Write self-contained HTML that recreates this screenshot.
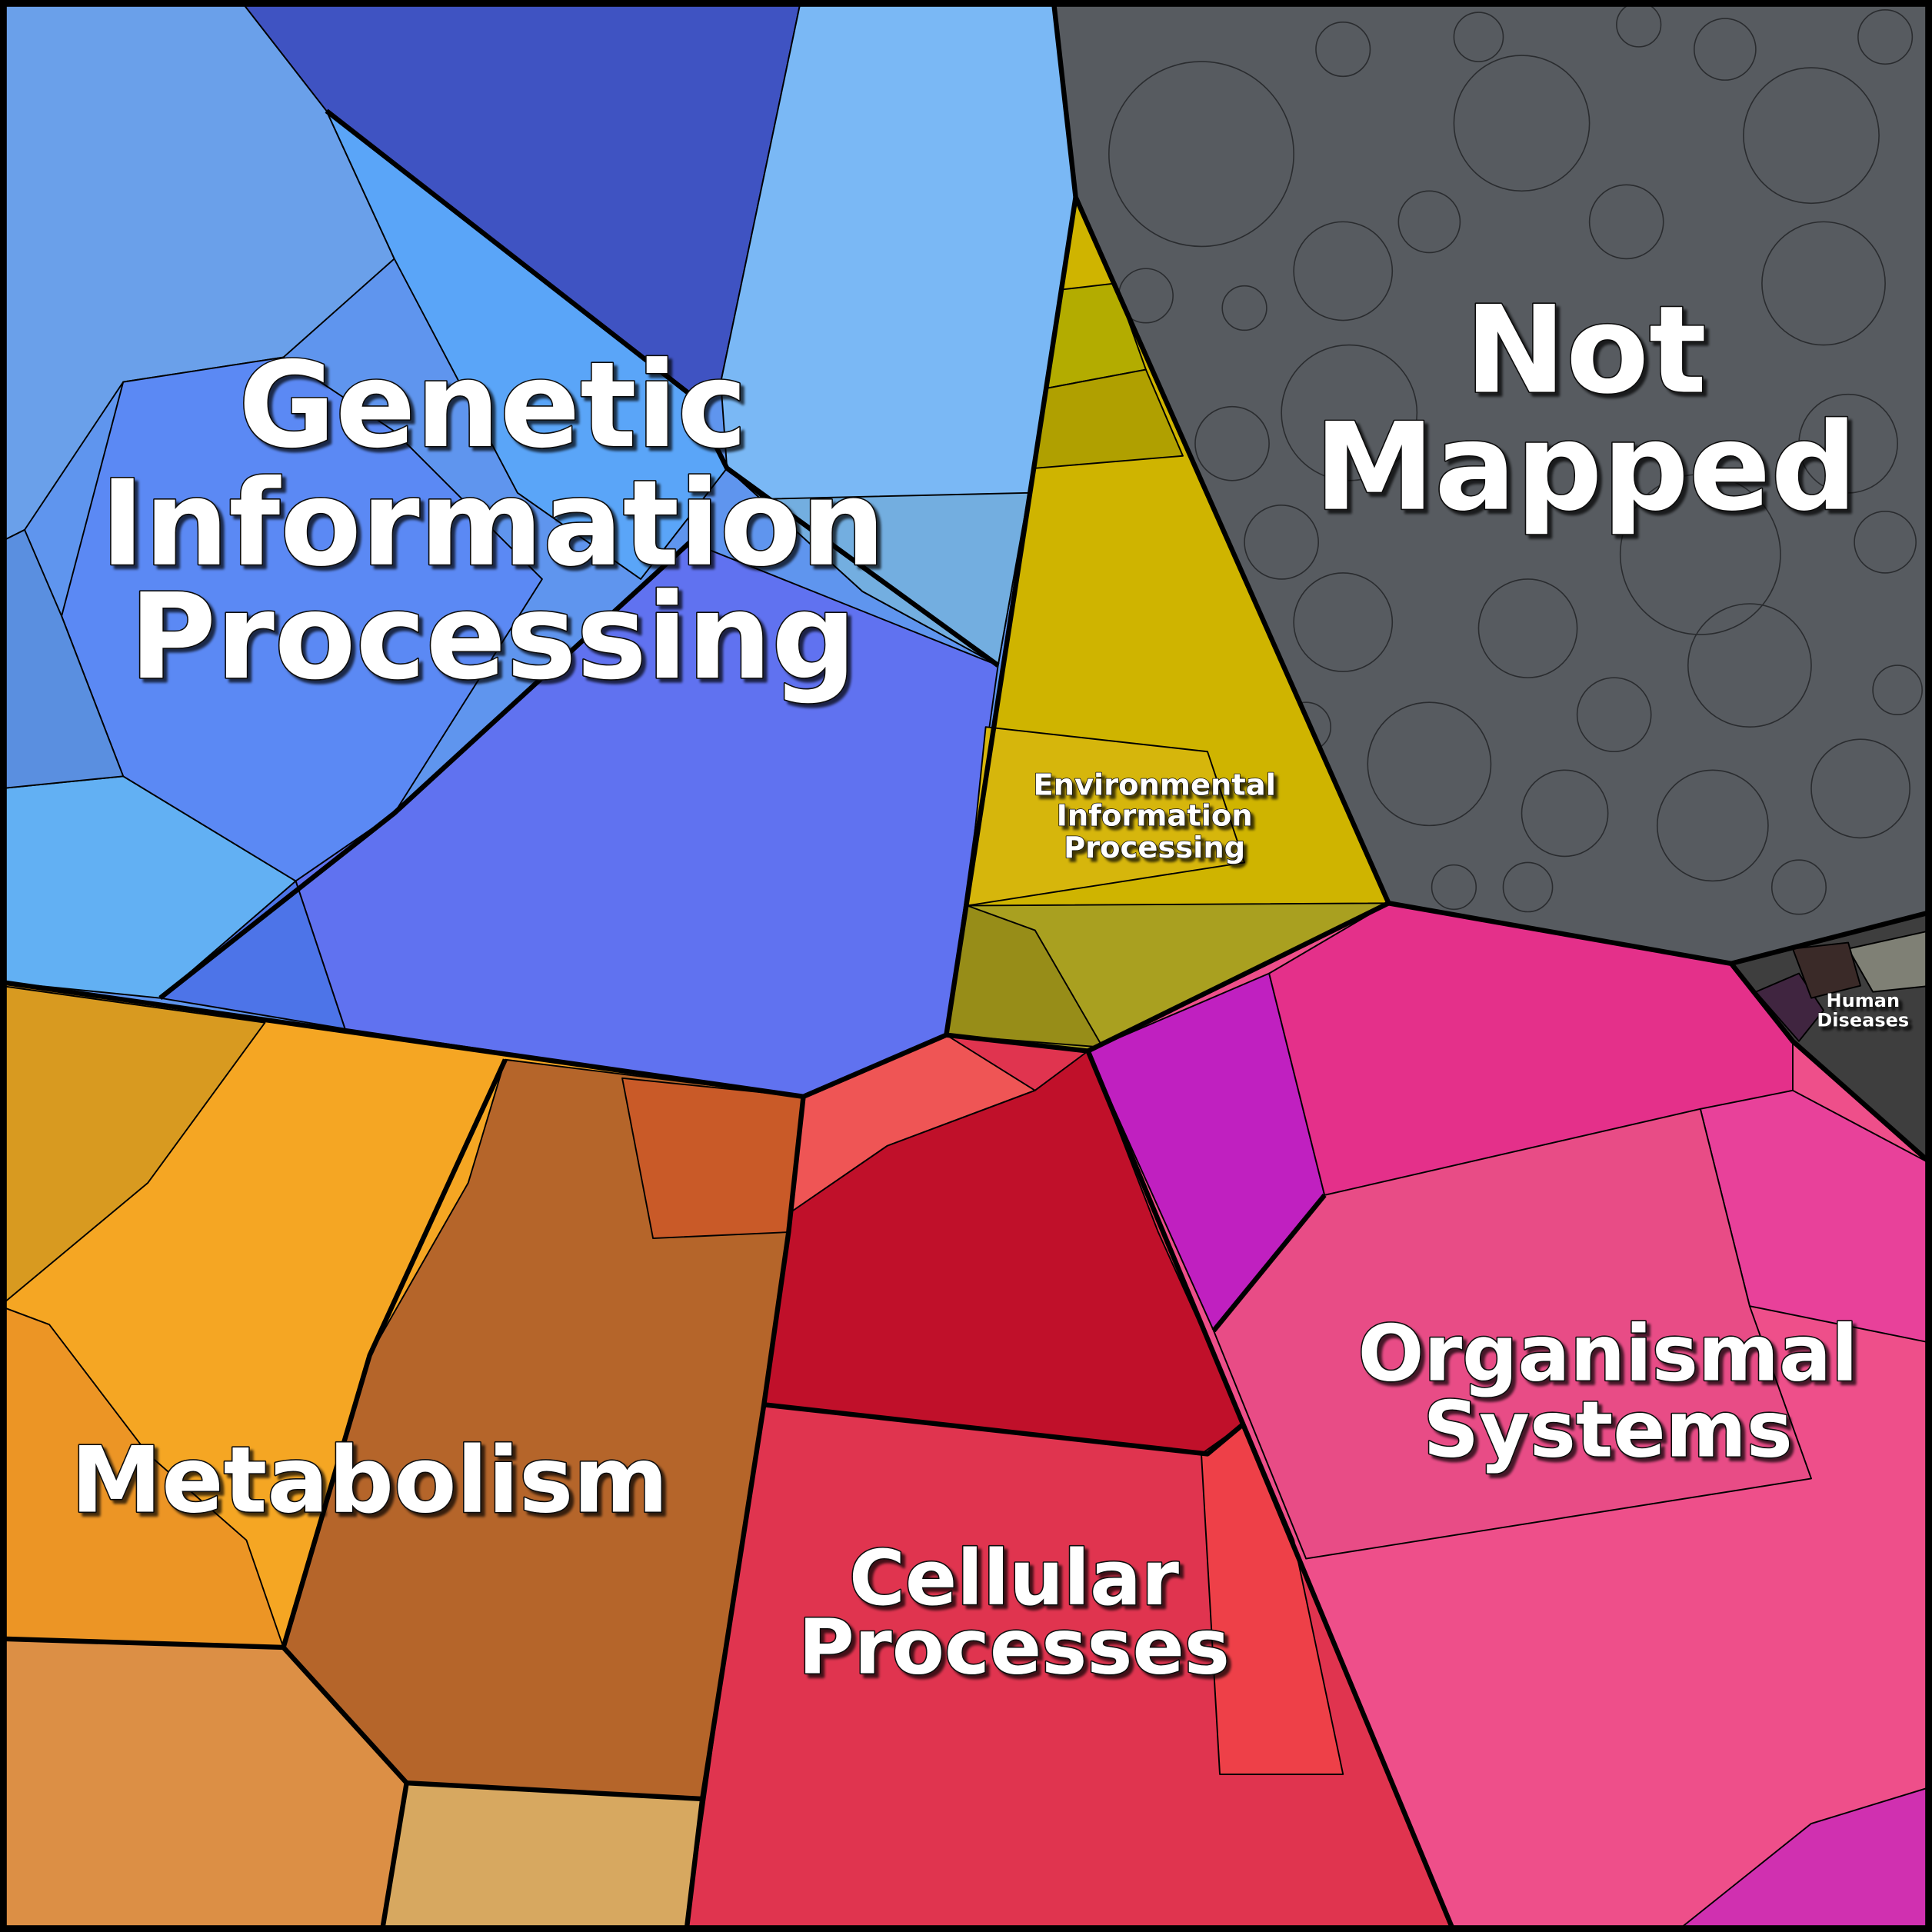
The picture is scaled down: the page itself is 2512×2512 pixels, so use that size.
<!DOCTYPE html>
<html><head><meta charset="utf-8"><style>
html,body{margin:0;padding:0;background:#000;}
svg{display:block;}
text{font-family:"DejaVu Sans","Liberation Sans",sans-serif;font-weight:bold;fill:#fff;text-anchor:middle;paint-order:stroke;stroke:#111;stroke-linejoin:round;}
</style></head><body>
<svg width="2512" height="2512" viewBox="0 0 1568 1568" xmlns="http://www.w3.org/2000/svg">
<defs><filter id="sh"><feDropShadow dx="3" dy="3" stdDeviation="1" flood-color="#000" flood-opacity="0.7"/></filter></defs>
<rect width="1568" height="1568" fill="#000"/>
<g stroke="#000" stroke-width="1.2" stroke-linejoin="round">
<g>
<polygon points="0,0 855,0 873,160 768,840 652,890 0,797" fill="#5f95ee"/>
<polygon points="0,0 195,0 265,90 320,210 230,290 100,310 20,430 0,440" fill="#6aa0ea"/>
<polygon points="195,0 650,0 585,310 560,320 265,90" fill="#3f53c2"/>
<polygon points="265,90 560,320 590,380 520,470 420,400 320,210" fill="#5aa5f8"/>
<polygon points="650,0 855,0 873,160 835,400 810,540 700,480 590,380 585,310" fill="#7ab8f5"/>
<polygon points="835,400 810,540 700,480 590,380 620,405" fill="#73aee0"/>
<polygon points="560,440 810,540 768,840 652,890 280,835 240,715 320,660" fill="#6072f0"/>
<polygon points="130,810 240,715 280,835" fill="#4d74e8"/>
<polygon points="0,640 100,630 240,715 130,810 0,797" fill="#62b0f3"/>
<polygon points="100,310 230,290 320,350 440,470 320,660 240,715 100,630 50,500" fill="#5b89f4"/>
<polygon points="0,440 20,430 50,500 100,630 0,640" fill="#5a8fe0"/>
</g>
<g>
<polygon points="855,0 1568,0 1568,740 1405,782 1127,733 873,160" fill="#575b60"/>
</g>
<g fill="none" stroke="#2a2c2f" stroke-width="1">
<circle cx="975" cy="125" r="75"/><circle cx="1235" cy="100" r="55"/><circle cx="1470" cy="110" r="55"/>
<circle cx="1090" cy="220" r="40"/><circle cx="1480" cy="230" r="50"/><circle cx="1095" cy="335" r="55"/>
<circle cx="1380" cy="450" r="65"/><circle cx="1240" cy="510" r="40"/><circle cx="1090" cy="505" r="40"/>
<circle cx="1420" cy="540" r="50"/><circle cx="1160" cy="620" r="50"/><circle cx="1390" cy="670" r="45"/>
<circle cx="1270" cy="660" r="35"/><circle cx="1510" cy="640" r="40"/><circle cx="1500" cy="360" r="40"/>
<circle cx="1000" cy="360" r="30"/><circle cx="1040" cy="440" r="30"/><circle cx="1310" cy="580" r="30"/>
<circle cx="930" cy="240" r="22"/><circle cx="1160" cy="180" r="25"/><circle cx="1320" cy="180" r="30"/>
<circle cx="1400" cy="40" r="25"/><circle cx="1530" cy="30" r="22"/><circle cx="1200" cy="30" r="20"/>
<circle cx="1010" cy="250" r="18"/><circle cx="1530" cy="440" r="25"/><circle cx="1180" cy="720" r="18"/>
<circle cx="1460" cy="720" r="22"/><circle cx="1540" cy="560" r="20"/><circle cx="1060" cy="590" r="20"/>
<circle cx="1330" cy="20" r="18"/><circle cx="1090" cy="40" r="22"/><circle cx="1240" cy="720" r="20"/>
</g>
<g>
<polygon points="873,160 1127,733 883,853 768,840" fill="#cfb400"/>
<polygon points="862,235 905,230 930,300 850,315" fill="#b3ac00"/>
<polygon points="850,315 930,300 960,370 840,380" fill="#b0a000"/>
<polygon points="785,735 1127,733 883,853 768,840" fill="#a9a020"/>
<polygon points="785,735 840,755 895,850 768,840" fill="#978d18"/>
<polygon points="800,590 980,610 1010,700 785,735" fill="#d6b60c"/>
</g>
<g>
<polygon points="1405,782 1568,740 1568,945 1455,845" fill="#3e3e3e"/>
<polygon points="1500,770 1568,755 1568,800 1520,805" fill="#7f8075"/>
<polygon points="1425,805 1460,790 1480,820 1460,845" fill="#402540"/>
<polygon points="1455,770 1500,765 1510,800 1470,810" fill="#3a2a28"/>
</g>
<g>
<polygon points="883,853 1127,733 1405,782 1455,845 1568,945 1568,1568 1180,1568" fill="#ee4f8a"/>
<polygon points="883,853 1030,790 1075,970 985,1080" fill="#c020c0"/>
<polygon points="1030,790 1127,733 1405,782 1455,845 1455,885 1075,970" fill="#e4308a"/>
<polygon points="1380,900 1455,885 1568,945 1568,1090 1420,1060" fill="#e8419a"/>
<polygon points="1470,1480 1568,1450 1568,1568 1360,1568" fill="#d030b0"/>
<polygon points="1075,970 1380,900 1420,1060 1470,1200 1060,1265 985,1080" fill="#e84c86"/>
</g>
<g>
<polygon points="652,890 768,840 883,853 1180,1568 557,1568 570,1460 620,1140 640,1000" fill="#e0344f"/>
<polygon points="652,890 768,840 840,885 720,930 640,985" fill="#ef5555"/>
<polygon points="640,985 720,930 840,885 883,853 940,1000 1010,1155 980,1180 620,1140" fill="#c0102a"/>
<polygon points="975,1180 1010,1155 1050,1250 1090,1440 990,1440" fill="#ee4048"/>
</g>
<g>
<polygon points="0,797 652,890 557,1568 0,1568" fill="#f5a623"/>
<polygon points="0,800 215,830 120,960 0,1060" fill="#d89a20"/>
<polygon points="0,1060 40,1075 120,1180 200,1250 230,1337 0,1330" fill="#ec9525"/>
<polygon points="410,860 652,890 640,1000 620,1140 570,1460 330,1447 230,1337 300,1100 380,960" fill="#b5652a"/>
<polygon points="505,875 652,890 640,1000 530,1005" fill="#c95a28"/>
<polygon points="0,1330 230,1337 330,1447 310,1568 0,1568" fill="#dc8f45"/>
<polygon points="330,1447 570,1460 557,1568 310,1568" fill="#d7a860"/>
</g>
</g>
<g fill="none" stroke="#000" stroke-width="4" stroke-linejoin="round">
<polyline points="855,0 873,160 1127,733 1405,782 1568,740"/>
<polyline points="873,160 768,840 883,853 1127,733"/>
<polyline points="0,797 652,890 768,840"/>
<polyline points="652,890 640,1000 620,1140 570,1460 557,1568"/>
<polyline points="883,853 1180,1568"/>
<polyline points="1405,782 1455,845 1568,945"/>
<polyline points="265,90 560,320 590,380 810,540"/>
<polyline points="130,810 320,660 560,440"/>
<polyline points="410,860 300,1100 230,1337 330,1447 310,1568"/>
<polyline points="0,1330 230,1337"/>
<polyline points="330,1447 570,1460"/>
<polyline points="1075,970 985,1080"/>
<polyline points="620,1140 980,1180 1010,1155"/>
</g>
<rect x="2.5" y="2.5" width="1563" height="1563" fill="none" stroke="#000" stroke-width="6"/>
<g filter="url(#sh)">
<text font-size="96" stroke-width="2">
<tspan x="400" y="362">Genetic</tspan><tspan x="400" y="458">Information</tspan><tspan x="400" y="550">Processing</tspan></text>
<text font-size="98" stroke-width="2">
<tspan x="1287" y="318">Not</tspan><tspan x="1287" y="413">Mapped</tspan></text>
<text font-size="74" stroke-width="2" x="300" y="1227">Metabolism</text>
<text font-size="62" stroke-width="2">
<tspan x="823" y="1302">Cellular</tspan><tspan x="823" y="1358">Processes</tspan></text>
<text font-size="63" stroke-width="2">
<tspan x="1305" y="1120">Organismal</tspan><tspan x="1305" y="1182">Systems</tspan></text>
<text font-size="24" stroke-width="1">
<tspan x="937" y="645">Environmental</tspan><tspan x="937" y="670">Information</tspan><tspan x="937" y="696">Processing</tspan></text>
<text font-size="15" stroke-width="0.6">
<tspan x="1512" y="817">Human</tspan><tspan x="1512" y="833">Diseases</tspan></text>
</g>
</svg>
</body></html>
